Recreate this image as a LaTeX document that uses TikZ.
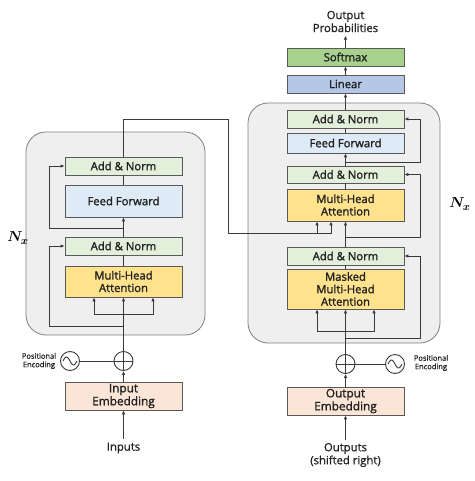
\documentclass[tikz,border=0pt]{standalone}
\usepackage{fontspec}
\usepackage{bm}
\setmainfont{Open Sans}
\newfontfamily\lab{Open Sans}[FakeBold=1.6]
\newfontfamily\plain{Open Sans}[FakeBold=1.0]
\usetikzlibrary{arrows.meta}
\definecolor{bgfill}{HTML}{EFEFEF}
\definecolor{bgline}{HTML}{7F7F7F}
\definecolor{boxline}{HTML}{595959}
\definecolor{wire}{HTML}{3A3A3A}
\definecolor{txt}{HTML}{222222}
\definecolor{ancol}{HTML}{E2EFDA}
\definecolor{ffcol}{HTML}{DEEAF6}
\definecolor{mhacol}{HTML}{FFE38C}
\definecolor{embcol}{HTML}{FBE5D6}
\definecolor{smcol}{HTML}{A9D18E}
\definecolor{lincol}{HTML}{B4C7E7}
\begin{document}
\begin{tikzpicture}[x=1pt,y=-1pt,
  box/.style={draw=boxline,line width=0.8pt,minimum width=117pt,inner sep=0pt,align=center,
    text=txt,font=\lab\fontsize{11.3}{12.5}\selectfont},
  addnorm/.style={box,fill=ancol,minimum height=18pt},
  ffbox/.style={box,fill=ffcol},
  mhabox/.style={box,fill=mhacol},
  embbox/.style={box,fill=embcol,minimum height=28pt,font=\lab\fontsize{11.8}{13}\selectfont},
  bgbox/.style={draw=bgline,fill=bgfill,line width=0.8pt,rounded corners=20pt},
  wires/.style={draw=wire,line width=0.9pt},
  arr/.style={wires,-{Latex[length=4pt,width=3.6pt]}},
  lbl/.style={text=txt,align=center,font=\plain\fontsize{11.3}{13}\selectfont},
  pelbl/.style={text=txt,align=center,font=\plain\fontsize{7.5}{8.5}\selectfont},
  ring/.style={circle,draw=wire,line width=0.9pt,minimum size=19pt,inner sep=0pt},
  nxlbl/.style={text=black,font=\fontsize{15}{15}\selectfont}]
\useasboundingbox (0,0) rectangle (474,481);
% backgrounds
\path[bgbox] (26,132) rectangle (205,335);
\path[bgbox] (248,103) rectangle (440,343);
% encoder
\node[addnorm] (anL2) at (123.5,166) {Add \& Norm};
\node[ffbox,minimum height=32pt] (ffL) at (123.5,201) {Feed Forward};
\node[addnorm] (anL1) at (123.5,246) {Add \& Norm};
\node[mhabox,minimum height=31pt] (mhaL) at (123.5,281.5) {Multi-Head\\Attention};
\node[ring] (plusL) at (123.5,361) {};
\node[ring] (sinL) at (70,361) {};
\node[embbox] (embL) at (123.5,396) {Input\\Embedding};
\node[lbl] (inL) at (123.5,448) {Inputs};
\node[pelbl] (peL) at (39,361) {Positional\\Encoding};
\node[nxlbl] (nxL) at (18,238) {$\bm{N_x}$};
% decoder
\node[box,fill=smcol,minimum height=18pt] (sm) at (345.5,57) {Softmax};
\node[box,fill=lincol,minimum height=18pt] (lin) at (345.5,84) {Linear};
\node[addnorm] (anR3) at (345.5,119) {Add \& Norm};
\node[ffbox,minimum height=20pt] (ffR) at (345.5,143) {Feed Forward};
\node[addnorm,minimum height=17pt] (anR2) at (345.5,174.5) {Add \& Norm};
\node[mhabox,minimum height=32pt] (mhaR) at (345.5,205) {Multi-Head\\Attention};
\node[addnorm] (anR1) at (345.5,256) {Add \& Norm};
\node[mhabox,minimum height=40pt] (mmhaR) at (345.5,289) {Masked\\Multi-Head\\Attention};
\node[ring] (plusR) at (345.5,364) {};
\node[ring] (sinR) at (395,364) {};
\node[embbox] (embR) at (345.5,401) {Output\\Embedding};
\node[lbl] (outR) at (345.5,455) {Outputs\\(shifted right)};
\node[lbl] (prob) at (345.5,21.5) {Output\\Probabilities};
\node[pelbl] (peR) at (431,363) {Positional\\Encoding};
\node[nxlbl] (nxR) at (460,204) {$\bm{N_x}$};
% ring contents
\draw[wires] (plusL.north) -- (plusL.south) (plusL.west) -- (plusL.east);
\draw[wires] (plusR.north) -- (plusR.south) (plusR.west) -- (plusR.east);
\draw[wires,shift={(sinL.center)}] plot[domain=-7:7,samples=40,smooth] (\x,{4*sin(\x*180/7)});
\draw[wires,shift={(sinR.center)}] plot[domain=-7:7,samples=40,smooth] (\x,{4*sin(\x*180/7)});
% encoder wires
\draw[arr] (inL.north) -- (embL.south);
\draw[arr] (embL.north) -- (plusL.south);
\draw[wires] (sinL) -- (plusL);
\draw[arr] (plusL.north) -- (mhaL.south);
\coordinate (brL) at (123.5,314);
\draw[arr] (brL) -| ([xshift=-29.5pt]mhaL.south);
\draw[arr] (brL) -| ([xshift=29.5pt]mhaL.south);
\coordinate (rL1) at (123.5,326);
\draw[arr] (rL1) -| (49,246) -- (anL1.west);
\draw[wires] (mhaL.north) -- (anL1.south);
\draw[arr] (anL1.north) -- (ffL.south);
\coordinate (rL2) at (123.5,228);
\draw[arr] (rL2) -| (49,166) -- (anL2.west);
\draw[wires] (ffL.north) -- (anL2.south);
\coordinate (ca) at (331,233);
\coordinate (cb) at (317,233);
\draw[arr] (anL2.north) |- (228,119) |- (ca) -- (ca |- mhaR.south);
\draw[arr] (cb) -- (cb |- mhaR.south);
% decoder wires
\draw[arr] (outR.north) -- (embR.south);
\draw[arr] (embR.north) -- (plusR.south);
\draw[wires] (sinR) -- (plusR);
\draw[arr] (plusR.north) -- (mmhaR.south);
\coordinate (brR) at (345.5,331);
\draw[arr] (brR) -| ([xshift=-28.5pt]mmhaR.south);
\draw[arr] (brR) -| ([xshift=28.5pt]mmhaR.south);
\coordinate (rR1) at (345.5,338);
\draw[arr] (rR1) -| (420,256) -- (anR1.east);
\draw[wires] (mmhaR.north) -- (anR1.south);
\draw[arr] (anR1.north) -- (mhaR.south);
\coordinate (rR2) at (345.5,237);
\draw[arr] (rR2) -| (420,174.5) -- (anR2.east);
\draw[wires] (mhaR.north) -- (anR2.south);
\draw[arr] (anR2.north) -- (ffR.south);
\coordinate (rR3) at (345.5,162);
\draw[arr] (rR3) -| (420,119) -- (anR3.east);
\draw[wires] (ffR.north) -- (anR3.south);
\draw[arr] (anR3.north) -- (lin.south);
\draw[arr] (lin.north) -- (sm.south);
\draw[arr] (sm.north) -- (prob.south);
\end{tikzpicture}
\end{document}
